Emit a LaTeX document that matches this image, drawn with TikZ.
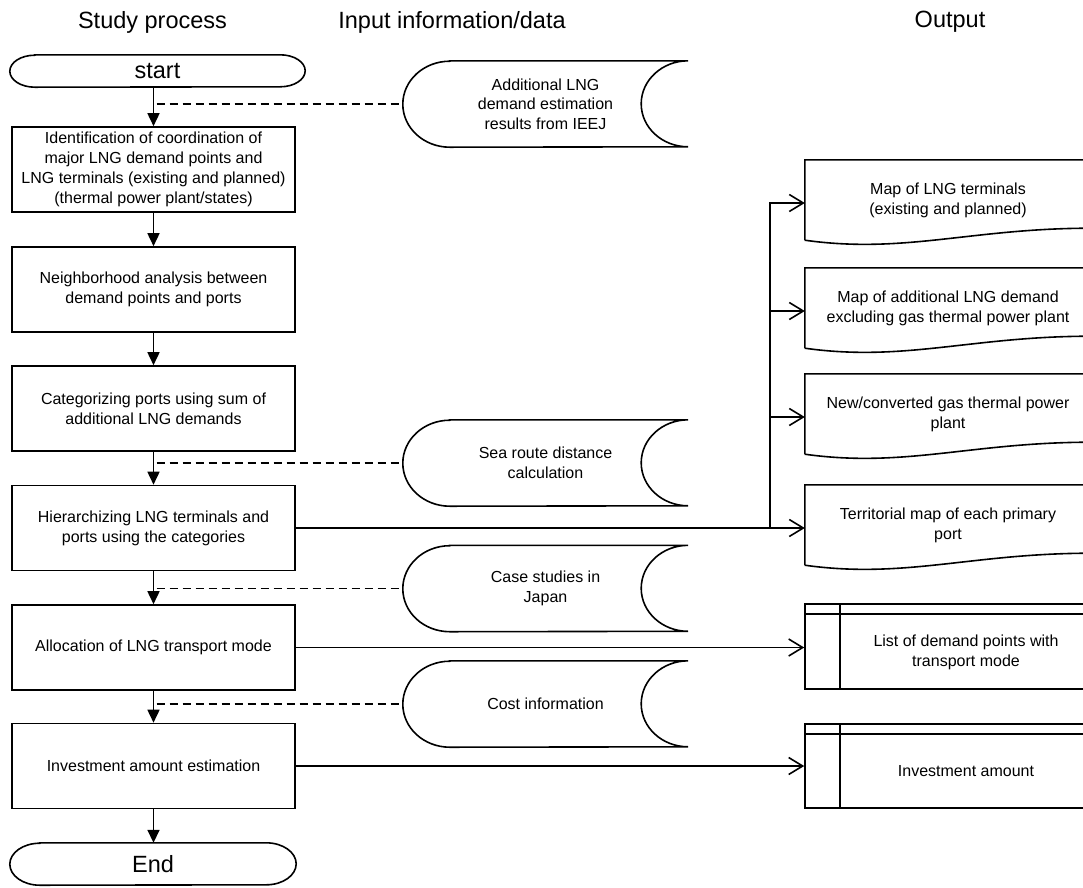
\documentclass[tikz,border=0pt]{standalone}
\usepackage{fontspec}
\setmainfont{Liberation Sans}
\usetikzlibrary{arrows.meta,calc}
\begin{document}
\begin{tikzpicture}[x=1pt,y=-1pt,
  every node/.style={font=\fontsize{16}{20}\selectfont, align=center, inner sep=0pt},
  hdr/.style={font=\fontsize{23.5}{26}\selectfont},
  proc/.style={draw, line width=1.6pt, minimum width=283pt, minimum height=85pt},
  term/.style={font=\fontsize{23.5}{26}\selectfont, minimum width=295pt, minimum height=32pt},
  sdata/.style={minimum width=285pt, minimum height=86pt, font=\fontsize{16}{19.5}\selectfont},
  docu/.style={minimum width=286pt, minimum height=80pt},
  istore/.style={draw, line width=1.6pt, minimum width=286pt, minimum height=85pt},
  outline/.style={line width=1.6pt},
  flow/.style={line width=1.6pt, -{Triangle[length=13pt,width=12pt]}},
  outarrow/.style={line width=1.6pt, -{Straight Barb[length=14pt,width=17pt]}},
  dashline/.style={line width=1.3pt, dash pattern=on 8pt off 5pt}
]
\useasboundingbox (0,0) rectangle (1083,887);
\clip (0,0) rectangle (1083,887);

% headers
\node[hdr] (h1) at (152.5,22) {Study process};
\node[hdr] (h2) at (452,22) {Input information/data};
\node[hdr] (h3) at (950,22) {Output};

% terminators
\node[term] (start) at (157.5,71) {start};
\draw[outline] ([xshift=25pt]start.north west) -- ([xshift=-25pt]start.north east)
  arc[start angle=90,end angle=-90,x radius=25pt,y radius=16pt]
  -- ([xshift=25pt]start.south west)
  arc[start angle=270,end angle=90,x radius=25pt,y radius=16pt] -- cycle;

\node[term, minimum width=286pt, minimum height=42pt] (end) at (153,864) {End};
\draw[outline] ([xshift=30pt]end.north west) -- ([xshift=-30pt]end.north east)
  arc[start angle=90,end angle=-90,x radius=30pt,y radius=21pt]
  -- ([xshift=30pt]end.south west)
  arc[start angle=270,end angle=90,x radius=30pt,y radius=21pt] -- cycle;

% process boxes
\node[proc] (b1) at (153.5,169.5) {Identification of coordination of\\major LNG demand points and\\LNG terminals (existing and planned)\\(thermal power plant/states)};
\node[proc] (b2) at (153.5,289.5) {Neighborhood analysis between\\demand points and ports};
\node[proc] (b3) at (153.5,408.5) {Categorizing ports using sum of\\additional LNG demands};
\node[proc] (b4) at (153.5,528) {Hierarchizing LNG terminals and\\ports using the categories};
\node[proc] (b5) at (153.5,647.5) {Allocation of LNG transport mode};
\node[proc] (b6) at (153.5,766) {Investment amount estimation};

% flow arrows
\draw[flow] (b1.north |- start.south) -- (b1.north);
\draw[flow] (b1.south) -- (b2.north);
\draw[flow] (b2.south) -- (b3.north);
\draw[flow] (b3.south) -- (b4.north);
\draw[flow] (b4.south) -- (b5.north);
\draw[flow] (b5.south) -- (b6.north);
\draw[flow] (b6.south) -- (b6.south |- end.north);

% stored data shapes
\node[sdata] (s1) at (545.5,104) {Additional LNG\\demand estimation\\results from IEEJ};
\node[sdata] (s2) at (545.5,463) {Sea route distance\\calculation};
\node[sdata] (s3) at (545.5,588.5) {Case studies in\\Japan};
\node[sdata] (s4) at (545.5,704) {Cost information};
\foreach \s in {s1,s2,s3,s4}{
  \draw[outline] ([xshift=47pt]\s.north west) -- (\s.north east)
    arc[start angle=90,end angle=270,x radius=47pt,y radius=43pt]
    -- ([xshift=47pt]\s.south west)
    arc[start angle=270,end angle=90,x radius=47pt,y radius=43pt] -- cycle;
  \draw[dashline] ($(\s.west -| b1.north)+(3,0)$) -- (\s.west);
}

% document shapes
\node[docu] (d1) at (948,200) {Map of LNG terminals\\(existing and planned)};
\node[docu] (d2) at (948,308) {Map of additional LNG demand\\excluding gas thermal power plant};
\node[docu] (d3) at (948,414) {New/converted gas thermal power\\plant};
\node[docu] (d4) at (948,525) {Territorial map of each primary\\port};
\foreach \d in {d1,d2,d3,d4}{
  \draw[outline] (\d.south west) -- (\d.north west) -- (\d.north east)
    -- ([yshift=12pt]\d.south east)
    .. controls ([xshift=-120pt,yshift=12pt]\d.south east) and ([xshift=100pt,yshift=-14pt]\d.south west) .. (\d.south west);
}

% internal storage shapes
\node[istore] (i1) at (948,646.5) {};
\node[istore, minimum height=84pt] (i2) at (948,766) {};
\foreach \i in {i1,i2}{
  \draw[outline] ([yshift=-11pt]\i.north west) -- ([yshift=-11pt]\i.north east);
  \draw[outline] ([xshift=36pt]\i.north west) -- ([xshift=36pt]\i.south west);
}
\node (i1t) at (966,652) {List of demand points with\\transport mode};
\node (i2t) at (966,771) {Investment amount};

% output connectors
\coordinate (br) at (770,528);
\draw[outarrow] (b4.east) -- (b4.east -| d4.west);
\draw[outarrow] (br) |- ([yshift=-3pt]d1.west);
\draw[outarrow] (br) |- ([yshift=-3pt]d2.west);
\draw[outarrow] (br) |- ([yshift=-3pt]d3.west);
\draw[outarrow] (b5.east) -- (b5.east -| i1.west);
\draw[outarrow] (b6.east) -- (b6.east -| i2.west);
\end{tikzpicture}
\end{document}
